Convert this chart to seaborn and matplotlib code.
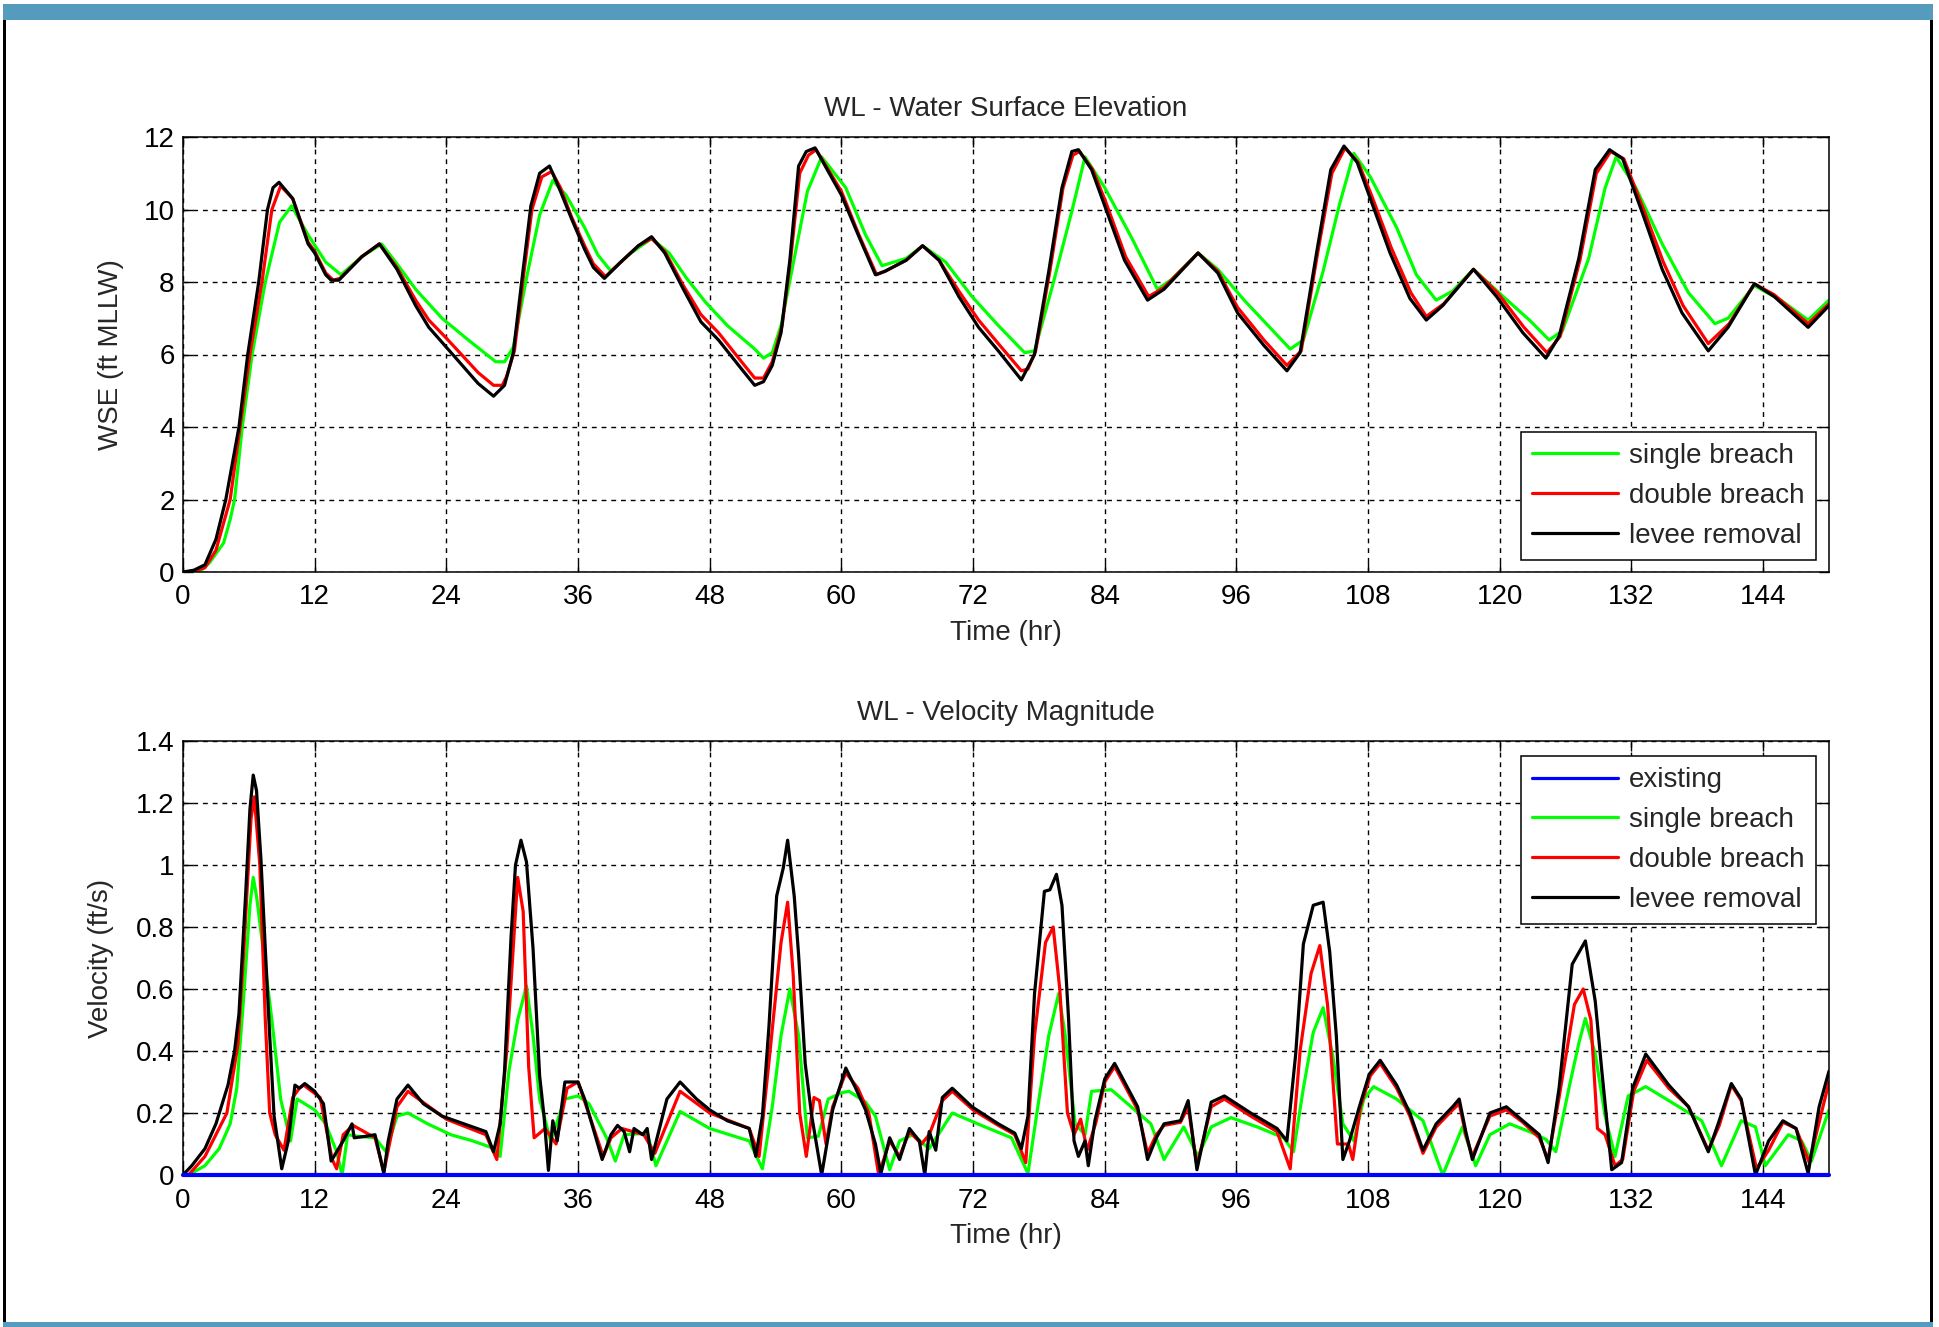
import matplotlib
matplotlib.use("Agg")
import matplotlib.pyplot as plt
from matplotlib.patches import Rectangle
import seaborn as sns
import numpy as np

# ---------------- DATA ----------------
wse_levee_t = [0, 1.0, 2.0, 3.0, 3.9, 5.1, 5.9, 6.9, 7.7, 8.2, 8.75, 10.0, 11.4, 12.0, 13.0, 13.5, 14.2, 16.3, 17.9,
               19.5, 21.2, 22.4, 24.0, 26.9, 28.3, 29.3, 30.1, 30.9, 31.7, 32.5, 33.4, 34.4, 35.4, 36.6, 37.4, 38.4,
               39.9, 41.5, 42.7, 43.9, 45.6, 47.2, 48.8, 50.9, 52.1, 52.9, 53.7, 54.5, 55.3, 56.1, 56.8, 57.6,
               60.0, 61.6, 63.1, 64.0, 65.9, 67.4, 68.9, 70.7, 72.5, 74.3, 76.4, 77.6, 78.9, 80.1, 81.0, 81.6, 82.8,
               84.0, 85.8, 87.9, 89.4, 92.5, 94.3, 96.1, 98.5, 100.6, 101.8, 103.3, 104.6, 105.8, 107.0, 108.2,
               110.0, 111.8, 113.3, 114.8, 117.6, 119.7, 122.1, 124.2, 125.4, 127.2, 128.7, 130.0, 131.2, 133.0,
               134.8, 136.6, 139.0, 140.8, 143.2, 145.0, 148.1, 150.0]
wse_levee_v = [0, 0.05, 0.2, 0.9, 2.0, 4.0, 6.0, 8.0, 10.0, 10.6, 10.75, 10.3, 9.05, 8.8, 8.2, 8.05, 8.05, 8.7, 9.05,
               8.35, 7.35, 6.75, 6.2, 5.2, 4.85, 5.15, 6.05, 8.1, 10.1, 11.0, 11.2, 10.5, 9.75, 8.9, 8.4, 8.1,
               8.55, 9.0, 9.25, 8.8, 7.8, 6.9, 6.4, 5.6, 5.15, 5.25, 5.7, 6.6, 8.6, 11.2, 11.6, 11.7,
               10.4, 9.25, 8.2, 8.3, 8.6, 9.0, 8.6, 7.6, 6.75, 6.1, 5.3, 6.0, 8.3, 10.6, 11.6, 11.65, 11.1,
               10.1, 8.6, 7.5, 7.8, 8.8, 8.25, 7.15, 6.25, 5.55, 6.05, 8.8, 11.1, 11.75, 11.3, 10.3,
               8.8, 7.55, 6.95, 7.35, 8.35, 7.6, 6.6, 5.9, 6.5, 8.65, 11.1, 11.65, 11.4, 9.9,
               8.35, 7.15, 6.1, 6.75, 7.95, 7.6, 6.75, 7.35]

wse_single_t = [0, 1.5, 2.4, 3.7, 4.3, 4.7, 5.4, 6.3, 7.5, 8.8, 9.9, 11.4, 13.0, 14.4, 16.3, 18.1, 19.5, 21.2, 23.6,
                26.0, 28.5, 29.3, 30.1, 31.3, 32.5, 33.7, 34.9, 36.6, 37.8, 39.0, 40.6, 42.7, 44.3, 45.9, 47.6, 49.6,
                52.1, 52.9, 53.7, 54.5, 55.7, 56.9, 58.2, 60.4, 62.2, 63.7, 65.9, 67.4, 69.5, 71.9, 74.3, 76.7,
                77.6, 79.2, 81.0, 82.2, 84.0, 86.4, 88.8, 90.0, 92.5, 94.3, 96.7, 100.9, 102.1, 103.9, 105.4,
                106.7, 108.2, 110.6, 112.4, 114.2, 115.7, 117.6, 120.3, 122.7, 124.5, 125.7, 128.1, 129.6, 130.6,
                132.4, 134.8, 137.2, 139.6, 140.8, 143.2, 145.6, 148.1, 150.0]
wse_single_v = [0, 0, 0.25, 0.8, 1.45, 2.0, 4.0, 6.0, 8.0, 9.65, 10.1, 9.3, 8.55, 8.2, 8.7, 9.05, 8.5, 7.8, 7.0,
                6.4, 5.8, 5.8, 6.2, 8.1, 9.85, 10.8, 10.4, 9.5, 8.75, 8.3, 8.75, 9.2, 8.8, 8.1, 7.45, 6.8,
                6.15, 5.9, 6.05, 6.8, 8.65, 10.5, 11.45, 10.6, 9.3, 8.45, 8.65, 9.0, 8.55, 7.6, 6.8, 6.05,
                6.1, 7.85, 9.95, 11.45, 10.6, 9.25, 7.8, 8.05, 8.8, 8.35, 7.5, 6.15, 6.4, 8.3, 10.15,
                11.55, 10.9, 9.5, 8.2, 7.5, 7.75, 8.35, 7.6, 6.95, 6.4, 6.65, 8.65, 10.6, 11.45,
                10.6, 9.05, 7.7, 6.85, 7.0, 7.9, 7.5, 6.95, 7.5]

wse_double_t = [0, 1.0, 2.0, 3.0, 4.3, 5.2, 6.1, 7.2, 8.1, 8.9, 10.0, 11.4, 12.0, 13.0, 13.7, 14.3, 16.3, 17.9, 19.5,
                21.2, 22.4, 24.0, 26.9, 28.3, 29.1, 29.5, 30.2, 31.0, 31.8, 32.7, 33.6, 34.4, 35.4, 36.6, 37.4, 38.5,
                39.9, 41.5, 42.7, 43.9, 45.6, 47.2, 48.8, 50.9, 52.1, 52.9, 53.7, 54.6, 55.4, 56.2, 57.0, 57.7,
                60.0, 61.6, 63.2, 64.0, 65.9, 67.4, 68.9, 70.7, 72.5, 74.3, 76.4, 77.0, 77.7, 79.0, 80.2, 81.1,
                81.7, 82.9, 84.1, 85.9, 88.0, 89.4, 92.5, 94.3, 96.1, 98.5, 100.6, 101.9, 103.4, 104.7, 105.9,
                107.1, 108.3, 110.1, 111.9, 113.3, 114.9, 117.6, 119.8, 122.2, 124.3, 125.5, 127.3, 128.8, 130.1,
                131.3, 133.1, 134.9, 136.7, 139.0, 140.9, 143.2, 145.0, 148.1, 150.0]
wse_double_v = [0, 0.02, 0.12, 0.6, 2.0, 4.0, 6.0, 8.0, 10.0, 10.65, 10.3, 9.1, 8.85, 8.25, 8.05, 8.1, 8.7, 9.05, 8.4,
                7.5, 6.95, 6.45, 5.5, 5.15, 5.15, 5.4, 6.1, 8.1, 10.0, 10.9, 11.05, 10.6, 9.8, 9.0, 8.5, 8.15,
                8.55, 9.0, 9.2, 8.85, 7.9, 7.1, 6.6, 5.8, 5.35, 5.35, 5.8, 6.8, 8.7, 11.0, 11.5, 11.65,
                10.5, 9.3, 8.2, 8.3, 8.6, 9.0, 8.6, 7.75, 6.95, 6.3, 5.55, 5.6, 6.1, 8.3, 10.6, 11.5,
                11.6, 11.1, 10.2, 8.7, 7.6, 7.85, 8.8, 8.3, 7.3, 6.4, 5.7, 6.1, 8.8, 11.0, 11.7,
                11.3, 10.4, 8.95, 7.7, 7.05, 7.4, 8.35, 7.7, 6.75, 6.05, 6.5, 8.6, 11.0, 11.6,
                11.4, 10.0, 8.55, 7.35, 6.3, 6.85, 7.95, 7.65, 6.85, 7.4]

vel_existing_t = [0, 150]
vel_existing_v = [0, 0]

vel_single_t = [0, 0.5, 2.0, 3.3, 4.3, 4.9, 5.5, 6.1, 6.4, 6.7, 7.3, 8.1, 8.9, 9.8, 10.4, 12.0, 13.0, 14.0, 14.5, 15.0,
                15.9, 17.5, 18.5, 19.5, 20.5, 22.3, 24.4, 26.4, 28.0, 28.9, 29.7, 30.5, 31.3, 31.9, 32.5, 33.5, 34.8,
                36.0, 37.0, 38.6, 39.4, 40.2, 42.3, 43.1, 45.3, 48.0, 51.6, 52.8, 53.7, 54.5, 55.3, 56.1, 56.9,
                57.9, 58.8, 60.0, 60.7, 62.2, 63.1, 64.4, 65.3, 66.5, 68.0, 70.1, 73.1, 75.5, 77.0, 77.9, 78.9,
                79.8, 80.4, 81.3, 82.2, 82.8, 84.6, 86.4, 88.2, 89.4, 91.2, 92.5, 93.7, 95.5, 97.9, 100.3, 101.2,
                102.1, 103.0, 103.9, 104.8, 105.7, 106.7, 107.6, 108.5, 110.6, 113.0, 114.8, 116.6, 117.8, 119.1,
                120.9, 122.7, 124.2, 125.1, 126.3, 127.2, 127.8, 128.7, 129.6, 130.5, 131.7, 133.3, 135.4, 138.4,
                140.2, 142.0, 143.3, 144.2, 146.3, 147.5, 148.4, 150.0]
vel_single_v = [0, 0, 0.03, 0.085, 0.165, 0.28, 0.56, 0.87, 0.96, 0.9, 0.73, 0.5, 0.245, 0.11, 0.245, 0.21, 0.165,
                0.075, 0.0, 0.13, 0.125, 0.12, 0.075, 0.19, 0.2, 0.165, 0.13, 0.11, 0.09, 0.06, 0.335, 0.5, 0.61,
                0.45, 0.245, 0.11, 0.245, 0.255, 0.23, 0.12, 0.045, 0.13, 0.135, 0.03, 0.205, 0.15, 0.11, 0.02,
                0.22, 0.45, 0.6, 0.45, 0.12, 0.125, 0.245, 0.265, 0.27, 0.235, 0.19, 0.017, 0.11, 0.13, 0.085,
                0.2, 0.155, 0.12, 0.005, 0.22, 0.45, 0.585, 0.45, 0.165, 0.13, 0.27, 0.275, 0.22, 0.165, 0.05,
                0.155, 0.06, 0.155, 0.185, 0.155, 0.12, 0.075, 0.28, 0.46, 0.54, 0.38, 0.165, 0.11, 0.245,
                0.285, 0.245, 0.175, 0.0, 0.155, 0.03, 0.13, 0.165, 0.14, 0.115, 0.075, 0.28, 0.425, 0.505,
                0.39, 0.19, 0.06, 0.255, 0.285, 0.24, 0.175, 0.03, 0.175, 0.155, 0.03, 0.13, 0.11, 0.045, 0.21]

vel_double_t = [0, 0.5, 2.0, 4.0, 5.0, 5.5, 6.2, 6.5, 7.0, 7.5, 7.9, 8.4, 9.2, 10.0, 10.6, 11.0, 12.5, 13.6, 14.0,
                14.6, 15.5, 17.5, 18.3, 19.5, 20.5, 24.0, 27.6, 28.6, 29.5, 30.5, 31.0, 31.5, 32.0, 33.0, 34.0, 35.0,
                36.0, 38.3, 39.0, 40.0, 42.0, 43.0, 45.3, 48.0, 51.6, 52.5, 53.5, 54.5, 55.1, 55.6, 56.2, 56.8,
                57.5, 58.0, 58.6, 59.2, 60.4, 61.5, 62.5, 63.4, 64.4, 65.3, 66.2, 67.3, 68.0, 69.2, 70.1, 72.0,
                74.3, 75.8, 76.8, 77.6, 78.6, 79.3, 79.9, 80.6, 81.2, 81.8, 82.4, 83.2, 84.0, 84.9, 86.1, 87.0,
                87.9, 88.7, 89.4, 90.9, 91.6, 92.4, 93.7, 94.9, 97.3, 99.7, 100.9, 101.8, 102.8, 103.6, 104.3,
                104.9, 105.2, 106.2, 106.6, 107.3, 108.2, 109.1, 110.6, 111.8, 113.0, 114.2, 115.7, 116.3, 116.9,
                117.5, 119.1, 120.6, 122.1, 123.6, 124.4, 125.4, 126.8, 127.6, 128.3, 128.9, 129.6, 130.5, 131.2,
                132.2, 133.4, 135.4, 137.2, 139.0, 140.0, 141.1, 142.0, 143.4, 144.5, 145.8, 147.0, 148.2, 149.1,
                150.0]
vel_double_v = [0, 0, 0.06, 0.2, 0.42, 0.7, 1.15, 1.22, 1.0, 0.5, 0.2, 0.13, 0.08, 0.25, 0.28, 0.29, 0.25, 0.05,
                0.02, 0.13, 0.16, 0.12, 0.01, 0.22, 0.27, 0.18, 0.13, 0.05, 0.4, 0.96, 0.85, 0.35, 0.12, 0.15, 0.1,
                0.28, 0.3, 0.06, 0.12, 0.15, 0.13, 0.07, 0.27, 0.2, 0.15, 0.06, 0.4, 0.75, 0.88, 0.65, 0.2, 0.06,
                0.25, 0.24, 0.1, 0.22, 0.33, 0.28, 0.2, 0.0, 0.11, 0.06, 0.14, 0.1, 0.13, 0.24, 0.27, 0.21,
                0.16, 0.13, 0.04, 0.45, 0.75, 0.8, 0.6, 0.2, 0.13, 0.18, 0.08, 0.17, 0.3, 0.35, 0.27, 0.21,
                0.07, 0.13, 0.16, 0.17, 0.22, 0.03, 0.22, 0.245, 0.19, 0.14, 0.02, 0.4, 0.65, 0.74, 0.55,
                0.25, 0.1, 0.1, 0.05, 0.22, 0.32, 0.36, 0.28, 0.19, 0.07, 0.155, 0.21, 0.23, 0.13,
                0.06, 0.19, 0.21, 0.17, 0.12, 0.05, 0.25, 0.55, 0.6, 0.5, 0.15, 0.13, 0.03, 0.05,
                0.27, 0.37, 0.28, 0.22, 0.08, 0.16, 0.29, 0.24, 0.02, 0.08, 0.17, 0.15, 0.04, 0.17,
                0.3]

vel_levee_t = [0, 0.8, 2.0, 3.0, 4.1, 4.7, 5.1, 5.7, 6.1, 6.4, 6.7, 7.1, 7.5, 7.9, 8.3, 9.0, 9.6, 10.2, 10.6, 11.1,
               12.0, 12.8, 13.5, 14.6, 15.4, 15.6, 16.7, 17.5, 18.3, 18.7, 19.5, 20.5, 21.9, 23.6, 25.6, 27.6, 28.3,
               28.9, 29.3, 29.9, 30.3, 30.8, 31.3, 31.9, 32.5, 32.9, 33.3, 33.7, 34.1, 34.8, 36.0, 36.6, 38.2, 39.0,
               39.6, 40.2, 40.7, 41.1, 41.9, 42.3, 42.7, 44.1, 45.3, 46.8, 48.0, 49.6, 51.6, 52.2, 52.8, 53.4, 54.1,
               54.7, 55.1, 55.7, 56.1, 56.7, 57.3, 58.2, 59.2, 60.4, 61.3, 62.2, 63.1, 63.6, 64.4, 65.3, 66.2, 67.1,
               67.6, 68.0, 68.6, 69.2, 70.1, 71.9, 74.3, 75.8, 76.4, 77.0, 77.6, 78.5, 79.0, 79.6, 80.1, 80.7, 81.2,
               81.6, 82.2, 82.5, 83.1, 84.0, 84.9, 86.1, 87.0, 87.9, 88.7, 89.4, 90.9, 91.6, 92.4, 93.7, 94.9, 97.3,
               99.7, 100.6, 101.4, 102.1, 103.0, 103.9, 104.5, 105.1, 105.7, 106.3, 107.2, 108.1, 109.1, 110.6,
               111.8, 113.0, 114.2, 115.7, 116.3, 116.9, 117.5, 119.1, 120.6, 122.1, 123.6, 124.4, 125.4, 126.6,
               127.8, 128.7, 129.3, 130.2, 131.1, 132.1, 133.3, 135.4, 137.2, 139.0, 139.9, 141.1, 142.0, 143.3,
               144.5, 145.8, 147.0, 148.1, 149.1, 150.0]
vel_levee_v = [0, 0.03, 0.085, 0.165, 0.29, 0.4, 0.52, 0.9, 1.18, 1.29, 1.24, 1.02, 0.73, 0.45, 0.19, 0.02, 0.11, 0.29,
               0.28, 0.295, 0.27, 0.23, 0.045, 0.11, 0.165, 0.12, 0.125, 0.13, 0.005, 0.11, 0.245, 0.29, 0.23, 0.19,
               0.165, 0.14, 0.075, 0.165, 0.335, 0.77, 1.0, 1.08, 1.01, 0.73, 0.32, 0.19, 0.015, 0.175, 0.11, 0.3,
               0.3, 0.245, 0.05, 0.13, 0.16, 0.14, 0.075, 0.15, 0.13, 0.15, 0.05, 0.245, 0.3, 0.245, 0.21, 0.175,
               0.15, 0.06, 0.19, 0.48, 0.9, 0.99, 1.08, 0.9, 0.71, 0.36, 0.19, 0.0, 0.21, 0.345, 0.28, 0.21, 0.1,
               0.005, 0.12, 0.05, 0.15, 0.11, 0.0, 0.14, 0.08, 0.25, 0.28, 0.22, 0.165, 0.135, 0.085, 0.19, 0.585,
               0.915, 0.92, 0.97, 0.87, 0.505, 0.11, 0.06, 0.11, 0.03, 0.175, 0.31, 0.36, 0.28, 0.22, 0.05, 0.12,
               0.165, 0.175, 0.24, 0.017, 0.235, 0.255, 0.2, 0.15, 0.11, 0.39, 0.745, 0.87, 0.88, 0.72, 0.45, 0.05,
               0.11, 0.22, 0.325, 0.37, 0.29, 0.2, 0.08, 0.165, 0.22, 0.245, 0.14, 0.05, 0.2, 0.22, 0.175, 0.13,
               0.04, 0.28, 0.68, 0.755, 0.56, 0.335, 0.017, 0.04, 0.28, 0.39, 0.29, 0.22, 0.075, 0.165, 0.295,
               0.245, 0.0, 0.11, 0.175, 0.15, 0.005, 0.22, 0.335]

x_ticks = [0, 12, 24, 36, 48, 60, 72, 84, 96, 108, 120, 132, 144]
wse_ticks = [0, 2, 4, 6, 8, 10, 12]
vel_ticks = [0, 0.2, 0.4, 0.6, 0.8, 1.0, 1.2, 1.4]
vel_tick_labels = ["0", "0.2", "0.4", "0.6", "0.8", "1", "1.2", "1.4"]

# ---------------- STYLE ----------------
sns.set_style("white")
FONT = ["Liberation Sans", "DejaVu Sans"]
plt.rcParams["font.family"] = FONT
FS = 20
plt.rcParams["font.size"] = FS

W, H = 1940, 1327
fig = plt.figure(figsize=(W / 100, H / 100), dpi=100)
fig.patch.set_facecolor("white")

def fx(px):
    return px / W

def fy(py):
    return 1 - py / H

# frame decoration
blue = "#559bbd"
fig.add_artist(Rectangle((fx(3), fy(20)), fx(1930), 16 / H, transform=fig.transFigure, color=blue, lw=0))
fig.add_artist(Rectangle((fx(3), fy(1327)), fx(1930), 5 / H, transform=fig.transFigure, color=blue, lw=0))
fig.add_artist(Rectangle((fx(3), fy(1322)), fx(3), 1302 / H, transform=fig.transFigure, color="black", lw=0))
fig.add_artist(Rectangle((fx(1930), fy(1322)), fx(3), 1302 / H, transform=fig.transFigure, color="black", lw=0))

ax_l, ax_r = 183, 1829
ax1 = fig.add_axes([fx(ax_l), fy(572), fx(ax_r - ax_l), (572 - 137) / H])
ax2 = fig.add_axes([fx(ax_l), fy(1175), fx(ax_r - ax_l), (1175 - 741) / H])

LW = 2.3

def style_axis(ax):
    ax.set_xlim(0, 150)
    ax.set_xticks(x_ticks)
    ax.grid(True, color="black", linestyle=(0, (3.5, 3.5)), linewidth=1.0)
    for s in ax.spines.values():
        s.set_visible(True)
        s.set_color("black")
        s.set_linewidth(1.1)
    ax.tick_params(direction="in", length=7, width=1.0, top=True, right=True,
                   bottom=True, left=True, labelsize=FS, colors="black")
    ax.tick_params(axis="x", pad=9)
    ax.tick_params(axis="y", pad=6)

leg_kw = dict(borderaxespad=0, fontsize=FS, handlelength=3.1, handletextpad=0.4, labelspacing=0.5,
              borderpad=0.4, fancybox=False, framealpha=1, edgecolor="black")

# ---- top: WSE ----
sns.lineplot(x=wse_single_t, y=wse_single_v, ax=ax1, color="#00ff00", lw=LW, label="single breach",
             estimator=None, sort=False)
sns.lineplot(x=wse_double_t, y=wse_double_v, ax=ax1, color="#ff0000", lw=LW, label="double breach",
             estimator=None, sort=False)
sns.lineplot(x=wse_levee_t, y=wse_levee_v, ax=ax1, color="#000000", lw=LW, label="levee removal",
             estimator=None, sort=False)
style_axis(ax1)
ax1.set_ylim(0, 12)
ax1.set_yticks(wse_ticks)
ax1.set_title("WL - Water Surface Elevation", fontsize=FS, pad=15)
ax1.set_xlabel("Time (hr)", fontsize=FS)
ax1.set_ylabel("WSE (ft MLLW)", fontsize=FS)
ax1.xaxis.set_label_coords(0.5, -0.11)
ax1.yaxis.set_label_coords(-0.036, 0.5)

leg1 = ax1.legend(loc="lower right", bbox_to_anchor=(0.992, 0.028), **leg_kw)
leg1.get_frame().set_linewidth(1.1)

# ---- bottom: Velocity ----
sns.lineplot(x=vel_existing_t, y=vel_existing_v, ax=ax2, color="#0000ff", lw=LW + 0.7, label="existing",
             estimator=None, sort=False)
sns.lineplot(x=vel_single_t, y=vel_single_v, ax=ax2, color="#00ff00", lw=LW, label="single breach",
             estimator=None, sort=False)
sns.lineplot(x=vel_double_t, y=vel_double_v, ax=ax2, color="#ff0000", lw=LW, label="double breach",
             estimator=None, sort=False)
sns.lineplot(x=vel_levee_t, y=vel_levee_v, ax=ax2, color="#000000", lw=LW, label="levee removal",
             estimator=None, sort=False)
ax2.lines[0].set_zorder(5)
ax2.lines[0].set_clip_on(False)
style_axis(ax2)
ax2.set_ylim(0, 1.4)
ax2.set_yticks(vel_ticks)
ax2.set_yticklabels(vel_tick_labels)
ax2.set_title("WL - Velocity Magnitude", fontsize=FS, pad=15)
ax2.set_xlabel("Time (hr)", fontsize=FS)
ax2.set_ylabel("Velocity (ft/s)", fontsize=FS)
ax2.xaxis.set_label_coords(0.5, -0.11)
ax2.yaxis.set_label_coords(-0.042, 0.5)

leg2 = ax2.legend(loc="upper right", bbox_to_anchor=(0.992, 0.965), **leg_kw)
leg2.get_frame().set_linewidth(1.1)
for l in leg2.get_lines():
    l.set_linewidth(LW)
for l in leg1.get_lines():
    l.set_linewidth(LW)

fig.savefig("out.png", dpi=100, facecolor="white")
